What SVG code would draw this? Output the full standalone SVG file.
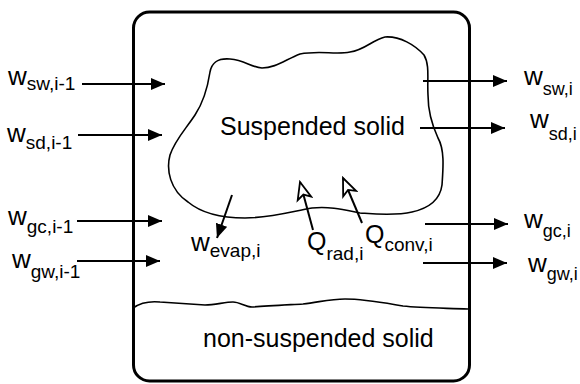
<svg xmlns="http://www.w3.org/2000/svg" width="580" height="384" viewBox="0 0 580 384">
<style>
text{font-family:"Liberation Sans",Arial,sans-serif;fill:#000}
.w{font-size:26px}
.s{font-size:19px}
.sr{font-size:18px}
.big{font-size:25px}
.s2{font-size:19px}
.arr{stroke:#000;stroke-width:2;fill:none;marker-end:url(#solid)}
.harr{stroke:#000;stroke-width:2;fill:none;marker-end:url(#hollow)}
.thin{stroke:#000;stroke-width:1.6;fill:none}
</style>
<defs>
<marker id="solid" markerUnits="userSpaceOnUse" viewBox="0 0 14 12" refX="14" refY="6" markerWidth="14" markerHeight="12" orient="auto">
<path d="M0,0 L14,6 L0,12 Z" fill="#000"/>
</marker>
<marker id="hollow" markerUnits="userSpaceOnUse" viewBox="-2 -2 21 18" refX="17" refY="7" markerWidth="21" markerHeight="18" orient="auto">
<path d="M0,0 L17,7 L0,14 L4,7 Z" fill="#fff" stroke="#000" stroke-width="1.8" stroke-linejoin="miter"/>
</marker>
</defs>
<g id="box">
<rect x="133.5" y="12" width="336" height="369" rx="16" fill="none" stroke="#000" stroke-width="3"/>
</g>
<g id="suspended">
<path class="thin" d="M210,72 C212,62 218,58 230,59 C245,60 250,67 262,68 C275,68 285,60 300,54 C320,50 335,55 350,52 C365,50 372,40 385,37 C400,36 415,45 424,55 C430,65 427,80 428,95 C428,110 432,125 438,138 C445,150 443,170 442,185 C440,200 430,208 412,212 C395,216 375,214 360,213 C345,210 330,206 312,208 C290,212 270,218 245,218 C220,218 200,212 188,202 C170,190 166,170 170,155 C175,140 185,130 195,115 C205,100 208,85 210,72 Z"/>
<text class="big" x="220" y="135">Suspended solid</text>
</g>
<g id="nonsuspended">
<path class="thin" d="M133,308 C140,303 150,301 160,302 C175,303 190,304 205,305 C215,305 225,302 233,302 C240,302 245,307 252,307 C265,306 285,305 303,304 C320,302 330,299 345,299 C365,299 385,303 403,306 C420,308 440,308 468,309"/>
<text class="big" x="203" y="347">non-suspended solid</text>
</g>
<g id="connectors">
<line class="arr" x1="82" y1="84" x2="165" y2="84"/>
<line class="arr" x1="78" y1="135" x2="162" y2="135"/>
<line class="arr" x1="77" y1="221" x2="162" y2="221"/>
<line class="arr" x1="77" y1="261" x2="160" y2="261"/>
<line class="arr" x1="423" y1="81" x2="507" y2="81"/>
<line class="arr" x1="420" y1="128" x2="505" y2="128"/>
<line class="arr" x1="425" y1="224" x2="508" y2="224"/>
<line class="arr" x1="423" y1="263" x2="507" y2="263"/>
<line class="arr" x1="232" y1="195" x2="217" y2="238"/>
<line class="harr" x1="313" y1="230" x2="300" y2="182"/>
<line class="harr" x1="362" y1="223" x2="343" y2="178"/>
</g>
<g id="labels">
<text x="8" y="85"><tspan class="w">w</tspan><tspan class="s" dy="5">sw,i-1</tspan></text>
<text x="7" y="142"><tspan class="w">w</tspan><tspan class="s" dy="7">sd,i-1</tspan></text>
<text x="8" y="225"><tspan class="w">w</tspan><tspan class="s" dy="8">gc,i-1</tspan></text>
<text x="12" y="268"><tspan class="w">w</tspan><tspan class="s" dy="10">gw,i-1</tspan></text>
<text x="524" y="85"><tspan class="w">w</tspan><tspan class="sr" dy="10">sw,i</tspan></text>
<text x="530" y="128"><tspan class="w">w</tspan><tspan class="sr" dy="12">sd,i</tspan></text>
<text x="524" y="228"><tspan class="w">w</tspan><tspan class="sr" dy="9">gc,i</tspan></text>
<text x="528" y="272"><tspan class="w">w</tspan><tspan class="sr" dy="8">gw,i</tspan></text>
<text x="191" y="251"><tspan class="w">w</tspan><tspan class="s2" dy="6">evap,i</tspan></text>
<text x="307" y="250"><tspan class="big">Q</tspan><tspan class="s2" dy="10">rad,i</tspan></text>
<text x="365" y="243"><tspan class="big">Q</tspan><tspan class="s2" dy="8">conv,i</tspan></text>
</g>
</svg>
